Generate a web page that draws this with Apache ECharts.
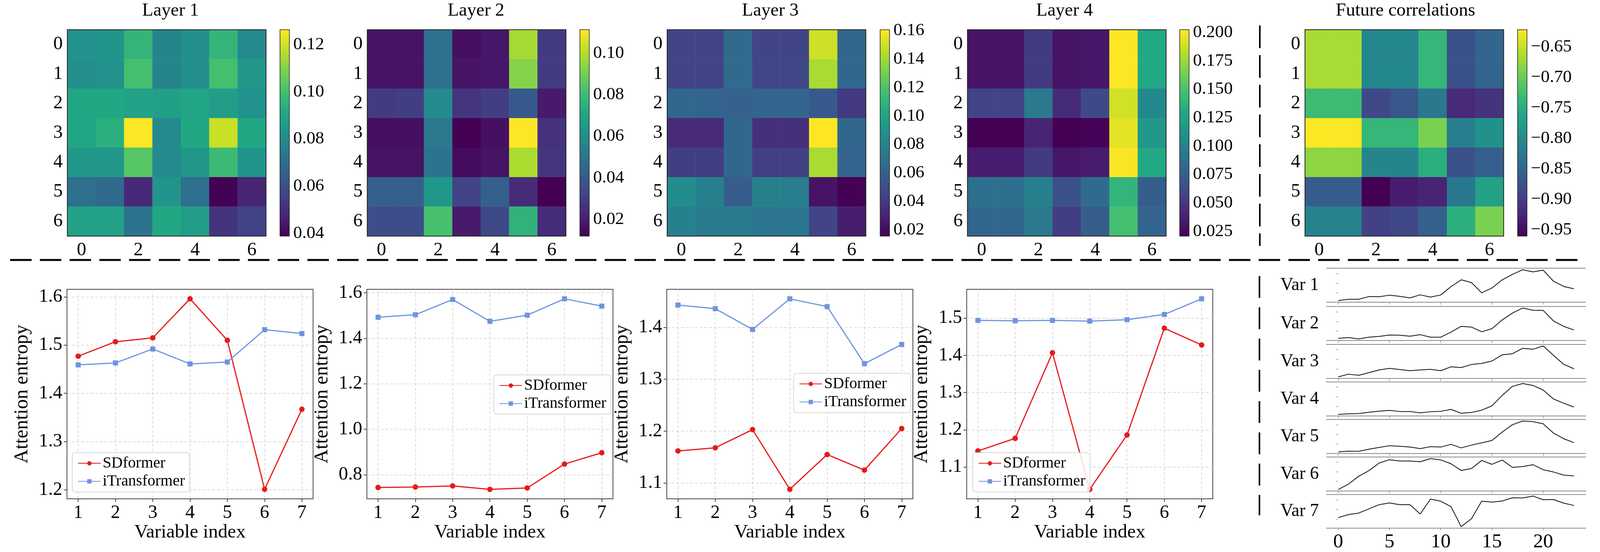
<!DOCTYPE html>
<html>
<head>
<meta charset="utf-8">
<script src="https://cdn.jsdelivr.net/npm/echarts@6/dist/echarts.min.js"></script>
<style>html,body{margin:0;padding:0;background:#fff;overflow:hidden}#c{width:100vw;height:100vh}</style>
</head>
<body>
<div id="c"></div>
<script>
// ---------------- DATA ----------------
const idx7 = ['0', '1', '2', '3', '4', '5', '6'];
const heatNames = ['Layer 1', 'Layer 2', 'Layer 3', 'Layer 4', 'Future correlations'];

const layer1 = [
  [0.083, 0.084, 0.096, 0.078, 0.082, 0.096, 0.080],
  [0.082, 0.083, 0.100, 0.078, 0.082, 0.100, 0.085],
  [0.091, 0.091, 0.089, 0.088, 0.090, 0.087, 0.083],
  [0.090, 0.094, 0.126, 0.080, 0.091, 0.119, 0.091],
  [0.085, 0.085, 0.103, 0.080, 0.085, 0.098, 0.084],
  [0.071, 0.069, 0.049, 0.084, 0.071, 0.039, 0.048],
  [0.089, 0.089, 0.072, 0.091, 0.087, 0.052, 0.056]
];
const layer2 = [
  [0.017, 0.017, 0.049, 0.016, 0.018, 0.098, 0.029],
  [0.017, 0.017, 0.049, 0.017, 0.018, 0.093, 0.029],
  [0.029, 0.030, 0.059, 0.027, 0.030, 0.040, 0.019],
  [0.016, 0.016, 0.052, 0.012, 0.016, 0.111, 0.026],
  [0.017, 0.017, 0.050, 0.015, 0.017, 0.099, 0.027],
  [0.042, 0.042, 0.064, 0.032, 0.042, 0.024, 0.012],
  [0.035, 0.035, 0.082, 0.019, 0.034, 0.076, 0.024]
];
const layer3 = [
  [0.045, 0.045, 0.066, 0.045, 0.045, 0.150, 0.064],
  [0.045, 0.045, 0.066, 0.046, 0.046, 0.142, 0.064],
  [0.064, 0.062, 0.061, 0.062, 0.062, 0.056, 0.040],
  [0.033, 0.033, 0.064, 0.035, 0.035, 0.161, 0.064],
  [0.042, 0.042, 0.064, 0.043, 0.043, 0.142, 0.062],
  [0.085, 0.078, 0.058, 0.079, 0.077, 0.023, 0.016],
  [0.078, 0.075, 0.075, 0.072, 0.072, 0.045, 0.027]
];
const layer4 = [
  [0.030, 0.030, 0.052, 0.030, 0.032, 0.202, 0.130],
  [0.030, 0.030, 0.052, 0.030, 0.032, 0.202, 0.130],
  [0.057, 0.057, 0.094, 0.043, 0.061, 0.190, 0.106],
  [0.021, 0.021, 0.039, 0.021, 0.022, 0.195, 0.117],
  [0.035, 0.035, 0.052, 0.032, 0.035, 0.201, 0.130],
  [0.088, 0.088, 0.099, 0.066, 0.084, 0.139, 0.075],
  [0.081, 0.081, 0.094, 0.054, 0.075, 0.148, 0.079]
];
const futureCorr = [
  [-0.666, -0.666, -0.804, -0.804, -0.737, -0.876, -0.849],
  [-0.666, -0.666, -0.804, -0.804, -0.737, -0.876, -0.852],
  [-0.730, -0.730, -0.886, -0.869, -0.825, -0.920, -0.910],
  [-0.622, -0.622, -0.737, -0.737, -0.689, -0.818, -0.791],
  [-0.679, -0.679, -0.808, -0.808, -0.747, -0.876, -0.859],
  [-0.862, -0.862, -0.960, -0.933, -0.926, -0.825, -0.767],
  [-0.811, -0.811, -0.896, -0.886, -0.859, -0.747, -0.689]
];

// colour-bar ranges and tick labels
const cbRange1 = [0.0388, 0.1263];
const cbRange2 = [0.0119, 0.1113];
const cbRange3 = [0.0156, 0.1606];
const cbRange4 = [0.0209, 0.2024];
const cbRange5 = [-0.9603, -0.6214];
const cbTicks1 = [0.04, 0.06, 0.08, 0.10, 0.12];
const cbTicks2 = [0.02, 0.04, 0.06, 0.08, 0.10];
const cbTicks3 = [0.02, 0.04, 0.06, 0.08, 0.10, 0.12, 0.14, 0.16];
const cbTicks4 = [0.025, 0.050, 0.075, 0.100, 0.125, 0.150, 0.175, 0.200];
const cbTicks5 = [-0.95, -0.90, -0.85, -0.80, -0.75, -0.70, -0.65];
const cbDecimals = [2, 2, 2, 3, 2];

// attention entropy line charts
const varIndex = [1, 2, 3, 4, 5, 6, 7];
const sdformer1 = [1.477, 1.507, 1.515, 1.596, 1.510, 1.201, 1.367];
const itrans1   = [1.459, 1.463, 1.492, 1.461, 1.465, 1.532, 1.524];
const sdformer2 = [0.744, 0.746, 0.751, 0.736, 0.742, 0.847, 0.897];
const itrans2   = [1.493, 1.504, 1.571, 1.475, 1.502, 1.574, 1.542];
const sdformer3 = [1.162, 1.168, 1.203, 1.088, 1.155, 1.125, 1.205];
const itrans3   = [1.443, 1.436, 1.396, 1.455, 1.440, 1.330, 1.367];
const sdformer4 = [1.143, 1.177, 1.407, 1.040, 1.186, 1.473, 1.428];
const itrans4   = [1.494, 1.493, 1.494, 1.492, 1.496, 1.510, 1.552];
const yTicks1 = [1.2, 1.3, 1.4, 1.5, 1.6];
const yTicks2 = [0.8, 1.0, 1.2, 1.4, 1.6];
const yTicks3 = [1.1, 1.2, 1.3, 1.4];
const yTicks4 = [1.1, 1.2, 1.3, 1.4, 1.5];

// future series (relative heights)
const hours = [0, 1, 2, 3, 4, 5, 6, 7, 8, 9, 10, 11, 12, 13, 14, 15, 16, 17, 18, 19, 20, 21, 22, 23];
const hourTicks = [0, 5, 10, 15, 20];
const varNames = ['Var 1', 'Var 2', 'Var 3', 'Var 4', 'Var 5', 'Var 6', 'Var 7'];
const var1 = [10, 17, 17, 31, 30, 38, 32, 24, 40, 28, 39, 82, 117, 103, 50, 75, 117, 145, 169, 158, 167, 110, 83, 71];
const var2 = [13, 17, 10, 19, 23, 30, 29, 24, 32, 19, 19, 45, 75, 71, 47, 63, 108, 143, 169, 158, 157, 103, 75, 56];
const var3 = [8, 22, 16, 30, 44, 52, 46, 40, 44, 47, 40, 60, 56, 72, 78, 90, 122, 128, 156, 151, 168, 120, 73, 50];
const var4 = [8, 11, 12, 19, 25, 29, 23, 23, 16, 22, 24, 34, 14, 18, 30, 52, 106, 153, 168, 158, 134, 88, 66, 46];
const var5 = [10, 14, 13, 24, 33, 42, 39, 35, 27, 37, 35, 49, 31, 45, 57, 69, 112, 150, 169, 166, 155, 107, 78, 58];
const var6 = [7, 35, 76, 105, 145, 162, 155, 155, 151, 168, 161, 141, 106, 116, 158, 138, 160, 122, 126, 136, 110, 98, 82, 78];
const var7 = [57, 73, 81, 103, 125, 134, 125, 125, 76, 154, 143, 115, 10, 51, 143, 138, 144, 161, 160, 170, 151, 152, 133, 121];

// ---------------- LAYOUT / STYLE (reference frame 4252 x 1412, scaled to the viewport) ----------------
const el = document.getElementById('c');
const chart = echarts.init(el);
const SX = chart.getWidth() / 4252, SY = chart.getHeight() / 1412;
const X = v => v * SX, Y = v => v * SY, F = v => Math.round(v * (SX + SY) / 2 * 10) / 10;

const FONT = 'Liberation Serif';
const VIRIDIS = ['#440154', '#482475', '#414487', '#355f8d', '#2a788e', '#21918c',
                 '#22a884', '#44bf70', '#7ad151', '#bddf26', '#fde725'];
const RED = '#e61a1a';
const BLUE = '#6f95de';
const heatData = [layer1, layer2, layer3, layer4, futureCorr];
const cbRanges = [cbRange1, cbRange2, cbRange3, cbRange4, cbRange5];
const cbTicks = [cbTicks1, cbTicks2, cbTicks3, cbTicks4, cbTicks5];
const heatLayout = [
  {gx: 179, cbx: 744, tx: 453},
  {gx: 976, cbx: 1541, tx: 1265},
  {gx: 1773, cbx: 2339, tx: 2047},
  {gx: 2571, cbx: 3135, tx: 2829},
  {gx: 3468, cbx: 4033, tx: 3735}
];
const HEAT_TOP = 76, HEAT_SIZE = 528, CB_W = 25;

const lineSets = [
  {sd: sdformer1, it: itrans1, ticks: yTicks1},
  {sd: sdformer2, it: itrans2, ticks: yTicks2},
  {sd: sdformer3, it: itrans3, ticks: yTicks3},
  {sd: sdformer4, it: itrans4, ticks: yTicks4}
];
const lineLeft = [178, 975, 1772, 2569];
const legendPos = [{l: 192, t: 1158}, {l: 1312, t: 959}, {l: 2109, t: 955}, {l: 2585, t: 1158}];
const LINE_TOP = 740, LINE_W = 654, LINE_H = 536;

const varSeries = [var1, var2, var3, var4, var5, var6, var7];
const varTops = [686, 784, 881, 977, 1073, 1169, 1265];
const VAR_LEFT = 3525, VAR_W = 689, VAR_H = 87;
const hourExtent = [-1.15, 24.15];

const txt = {fontFamily: FONT, color: '#000'};
const padMin = v => v.min - 0.05 * (v.max - v.min);
const padMax = v => v.max + 0.05 * (v.max - v.min);
const fmt = (v, d) => (v < 0 ? '\u2212' : '') + Math.abs(v).toFixed(d);

const option = {
  animation: false, backgroundColor: '#fff',
  grid: [], xAxis: [], yAxis: [], series: [], visualMap: [], legend: [], graphic: []
};

// ---------------- HEATMAPS ----------------
heatNames.forEach((name, i) => {
  const lay = heatLayout[i];
  const g = option.grid.length;
  option.grid.push({left: X(lay.gx), top: Y(HEAT_TOP), width: X(HEAT_SIZE), height: Y(HEAT_SIZE), show: true,
    borderColor: '#222', borderWidth: 2, backgroundColor: 'transparent', z: 10});
  const xi = option.xAxis.length;
  option.xAxis.push({type: 'category', gridIndex: g, data: idx7,
    axisLine: {show: false}, splitLine: {show: false},
    axisTick: {alignWithLabel: true, interval: 1, length: 8, lineStyle: {color: '#222', width: 2}},
    axisLabel: Object.assign({interval: 1, margin: 12, fontSize: F(49)}, txt)});
  const yi = option.yAxis.length;
  option.yAxis.push({type: 'category', gridIndex: g, data: idx7, inverse: true,
    axisLine: {show: false}, splitLine: {show: false},
    axisTick: {alignWithLabel: true, interval: 0, length: 8, lineStyle: {color: '#222', width: 2}},
    axisLabel: Object.assign({interval: 0, margin: 12, fontSize: F(49)}, txt)});
  const data = [];
  heatData[i].forEach((row, r) => row.forEach((v, c) => data.push([c, r, v])));
  const si = option.series.length;
  option.series.push({type: 'heatmap', xAxisIndex: xi, yAxisIndex: yi, data: data,
    emphasis: {disabled: true}, itemStyle: {borderWidth: 0}});
  option.visualMap.push({type: 'continuous', seriesIndex: si, min: cbRanges[i][0], max: cbRanges[i][1],
    inRange: {color: VIRIDIS}, orient: 'vertical', left: X(lay.cbx), top: Y(HEAT_TOP),
    itemWidth: X(CB_W), itemHeight: Y(HEAT_SIZE), padding: 0, calculable: false, hoverLink: false});
  // colour bar axis
  const g2 = option.grid.length;
  option.grid.push({left: X(lay.cbx), top: Y(HEAT_TOP), width: X(CB_W), height: Y(HEAT_SIZE), show: true,
    borderColor: '#222', borderWidth: 1.5, backgroundColor: 'transparent', z: 10});
  option.xAxis.push({type: 'value', gridIndex: g2, show: false, min: 0, max: 1});
  option.yAxis.push({type: 'value', gridIndex: g2, position: 'right',
    min: cbRanges[i][0], max: cbRanges[i][1],
    axisLine: {show: false}, splitLine: {show: false},
    axisTick: {show: true, length: 8, customValues: cbTicks[i], lineStyle: {color: '#222', width: 2}},
    axisLabel: Object.assign({customValues: cbTicks[i], margin: 10, fontSize: F(46),
      formatter: v => fmt(v, cbDecimals[i])}, txt)});
  option.graphic.push({type: 'text', x: X(lay.tx), y: Y(28), silent: true,
    style: {text: name, fill: '#000', font: F(48) + 'px "' + FONT + '"', textAlign: 'center', textVerticalAlign: 'middle'}});
});

// ---------------- LINE CHARTS ----------------
lineSets.forEach((s, i) => {
  const g = option.grid.length;
  option.grid.push({left: X(lineLeft[i]), top: Y(LINE_TOP), width: X(LINE_W), height: Y(LINE_H), show: true,
    borderColor: '#444', borderWidth: 2, backgroundColor: 'transparent'});
  const xi = option.xAxis.length;
  option.xAxis.push({type: 'value', gridIndex: g, min: padMin, max: padMax,
    axisLine: {show: false},
    axisTick: {customValues: varIndex, length: 8, lineStyle: {color: '#444', width: 2}},
    axisLabel: Object.assign({customValues: varIndex, margin: 12, fontSize: F(49)}, txt),
    splitLine: {show: true, lineStyle: {type: [7, 5], color: '#d0d0d0', width: 1.5}},
    name: 'Variable index', nameLocation: 'middle', nameGap: Y(62),
    nameTextStyle: Object.assign({fontSize: F(50)}, txt)});
  const yi = option.yAxis.length;
  option.yAxis.push({type: 'value', gridIndex: g, min: padMin, max: padMax,
    axisLine: {show: false},
    axisTick: {customValues: s.ticks, length: 8, lineStyle: {color: '#444', width: 2}},
    axisLabel: Object.assign({customValues: s.ticks, margin: 12, fontSize: F(49), formatter: v => v.toFixed(1)}, txt),
    splitLine: {show: true, lineStyle: {type: [7, 5], color: '#d0d0d0', width: 1.5}},
    name: 'Attention entropy', nameLocation: 'middle', nameGap: X(93),
    nameTextStyle: Object.assign({fontSize: F(51)}, txt)});
  option.series.push({type: 'line', name: 'SDformer', xAxisIndex: xi, yAxisIndex: yi,
    data: varIndex.map((x, k) => [x, s.sd[k]]), symbol: 'circle', symbolSize: 14,
    itemStyle: {color: RED}, lineStyle: {color: RED, width: 3}, emphasis: {disabled: true}});
  option.series.push({type: 'line', name: 'iTransformer', xAxisIndex: xi, yAxisIndex: yi,
    data: varIndex.map((x, k) => [x, s.it[k]]), symbol: 'rect', symbolSize: 13,
    itemStyle: {color: BLUE}, lineStyle: {color: BLUE, width: 3}, emphasis: {disabled: true}});
  option.legend.push({show: true, orient: 'vertical', left: X(legendPos[i].l), top: Y(legendPos[i].t),
    data: ['SDformer', 'iTransformer'], selectedMode: false,
    itemWidth: X(60), itemHeight: 14, itemGap: 4, padding: [6, 12, 6, 14],
    borderColor: '#d8d8d8', borderWidth: 2, borderRadius: 8, backgroundColor: 'rgba(255,255,255,0.85)',
    textStyle: Object.assign({fontSize: F(41), lineHeight: F(43)}, txt)});
});

// ---------------- FUTURE SERIES PANELS ----------------
varSeries.forEach((vals, i) => {
  const g = option.grid.length;
  option.grid.push({left: X(VAR_LEFT), top: Y(varTops[i]), width: X(VAR_W), height: Y(VAR_H)});
  const xi = option.xAxis.length;
  option.xAxis.push({type: 'value', gridIndex: g, min: hourExtent[0], max: hourExtent[1],
    axisLine: {show: true, lineStyle: {color: '#8a8a8a', width: 2}},
    axisTick: {show: true, customValues: hourTicks, length: 6, lineStyle: {color: '#8a8a8a', width: 1.5}},
    axisLabel: Object.assign({show: i === 6, customValues: hourTicks, margin: 10, fontSize: F(52)}, txt),
    splitLine: {show: false}});
  option.xAxis.push({type: 'value', gridIndex: g, position: 'top', min: hourExtent[0], max: hourExtent[1],
    axisLine: {show: true, lineStyle: {color: '#8a8a8a', width: 2}},
    axisTick: {show: false}, axisLabel: {show: false}, splitLine: {show: false}});
  const yi = option.yAxis.length;
  option.yAxis.push({type: 'value', gridIndex: g, min: padMin, max: padMax, splitNumber: 4,
    axisLine: {show: false},
    axisTick: {show: true, length: 6, lineStyle: {color: '#999', width: 1.5}},
    axisLabel: {show: false}, splitLine: {show: false},
    name: varNames[i], nameLocation: 'middle', nameRotate: 0, nameGap: X(20),
    nameTextStyle: Object.assign({fontSize: F(47)}, txt)});
  option.series.push({type: 'line', xAxisIndex: xi, yAxisIndex: yi,
    data: hours.map((h, k) => [h, vals[k]]), showSymbol: false, symbol: 'none',
    lineStyle: {color: '#111', width: 2}, emphasis: {disabled: true}});
});

// ---------------- SEPARATORS ----------------
option.graphic.push({type: 'line', silent: true, shape: {x1: X(27), y1: Y(665), x2: X(4204), y2: Y(665)},
  style: {stroke: '#000', lineWidth: 5, lineDash: [X(57), X(22)]}});
option.graphic.push({type: 'line', silent: true, shape: {x1: X(3348), y1: Y(65), x2: X(3348), y2: Y(629)},
  style: {stroke: '#000', lineWidth: 4, lineDash: [Y(58), Y(18)]}});
option.graphic.push({type: 'line', silent: true, shape: {x1: X(3347), y1: Y(706), x2: X(3347), y2: Y(1318)},
  style: {stroke: '#000', lineWidth: 4, lineDash: [Y(56), Y(24)]}});

chart.setOption(option);
window.addEventListener('resize', () => chart.resize());
</script>
</body>
</html>
